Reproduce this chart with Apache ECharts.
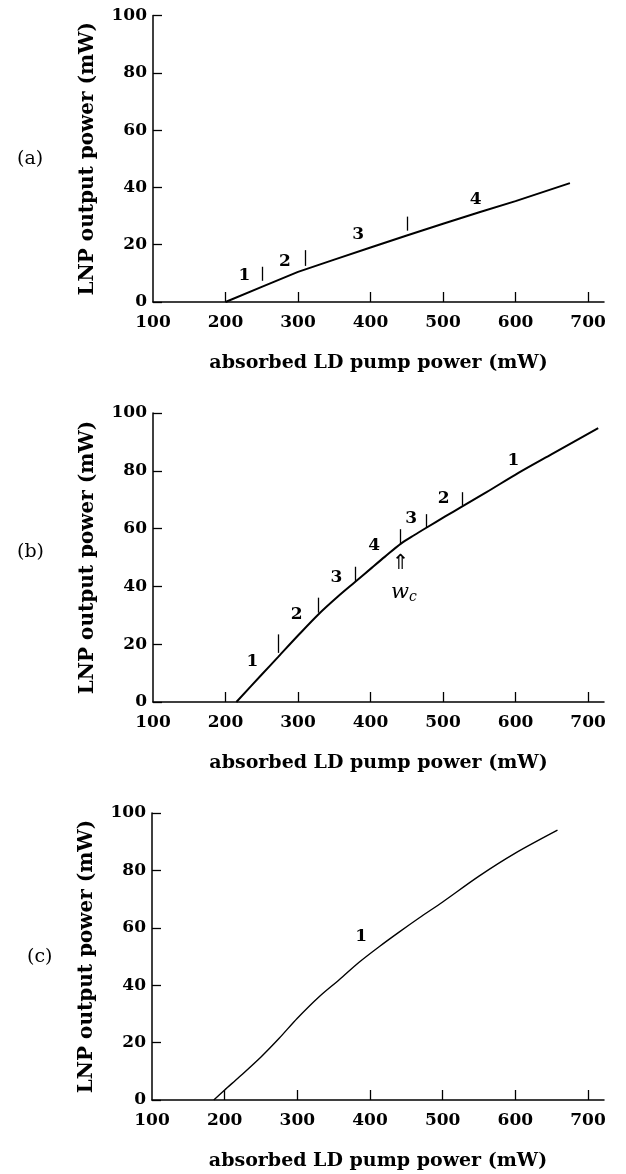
<!DOCTYPE html>
<html>
<head>
<meta charset="utf-8">
<script src="https://cdn.jsdelivr.net/npm/echarts@6/dist/echarts.min.js"></script>
<style>
  html, body { margin: 0; padding: 0; background: #fff; }
  #chart { width: 626px; height: 1174px; }
</style>
</head>
<body>
<div id="chart"></div>
<script>
// tick labels shared by the three panels
const pumpTicks = [100, 200, 300, 400, 500, 600, 700]

// (a)
const pumpA = [200, 250, 300, 350, 400, 450, 500, 550, 600, 675]
const outA = [0, 5.3, 10.5, 14.8, 19, 23.2, 27.3, 31.3, 35.2, 41.5]
const markXA = [251, 310, 451]
const markLoA = [7.4, 12.6, 24.9]
const markHiA = [12.3, 18.1, 29.8]
const tagXA = [226, 282, 383, 545]
const tagYA = [9.1, 14.1, 23.4, 35.9]
const tagTextA = ['1', '2', '3', '4']

// (b)
const pumpB = [215, 250, 273, 300, 328, 355, 379, 402, 420, 442, 460, 477, 503, 526, 560, 604, 650, 714]
const outB = [0, 9.5, 15.7, 23, 30.3, 36.5, 41.6, 46.5, 50.3, 54.8, 57.7, 60.3, 64.2, 67.6, 72.6, 79.3, 85.8, 94.8]
const markXB = [273, 328, 379, 441, 477, 526]
const markLoB = [17, 30.9, 41.9, 54.6, 60.4, 68]
const markHiB = [23.4, 36.1, 46.8, 59.8, 65, 72.6]
const tagXB = [237, 298, 353, 405, 456, 501, 597]
const tagYB = [14.1, 30.3, 43, 54, 63.3, 70.3, 83.6]
const tagTextB = ['1', '2', '3', '4', '3', '2', '1']

// (c)
const pumpC = [185, 200, 220, 250, 275, 300, 330, 358, 385, 413, 440, 468, 500, 550, 600, 658]
const outC = [0, 3.5, 8, 15, 21.5, 28.5, 36, 42, 48, 53.5, 58.5, 63.5, 69, 78, 86, 94]
const tagXC = [388]
const tagYC = [57]
const tagTextC = ['1']

const serif = 'DejaVu Serif'

const grids = [
  { left: 153, top: 15.5, width: 451, height: 286.5 },
  { left: 153, top: 413, width: 451, height: 289 },
  { left: 152, top: 813, width: 452, height: 287 }
]

const makeX = (i) => ({
  type: 'value',
  gridIndex: i,
  min: 100,
  max: 722,
  interval: 100,
  name: 'absorbed LD pump power (mW)',
  nameLocation: 'middle',
  nameGap: 52,
  nameTextStyle: { fontFamily: serif, fontWeight: 'bold', fontSize: 19, color: '#000' },
  axisLine: { lineStyle: { color: '#000', width: 1.5 } },
  axisTick: { inside: true, length: 10, lineStyle: { color: '#000', width: 1.3 }, customValues: pumpTicks.slice(1) },
  axisLabel: { customValues: pumpTicks, margin: 12, fontFamily: serif, fontWeight: 'bold', fontSize: 17, color: '#000' },
  splitLine: { show: false }
})

const makeY = (i) => ({
  type: 'value',
  gridIndex: i,
  min: 0,
  max: 100,
  interval: 20,
  name: 'LNP output power (mW)',
  nameLocation: 'middle',
  nameGap: 55,
  nameTextStyle: { fontFamily: serif, fontWeight: 'bold', fontSize: 20, color: '#000' },
  axisLine: { show: true, lineStyle: { color: '#000', width: 1.5 } },
  axisTick: { inside: true, length: 9, lineStyle: { color: '#000', width: 1.3 } },
  axisLabel: { margin: 6, fontFamily: serif, fontWeight: 'bold', fontSize: 17, color: '#000' },
  splitLine: { show: false }
})

const curve = (i, xs, ys, w, smooth, marks) => ({
  type: 'line',
  xAxisIndex: i,
  yAxisIndex: i,
  data: xs.map((x, k) => [x, ys[k]]),
  showSymbol: false,
  smooth: smooth,
  lineStyle: { color: '#000', width: w },
  animation: false,
  markLine: marks ? {
    silent: true,
    symbol: ['none', 'none'],
    label: { show: false },
    lineStyle: { color: '#000', width: 1.3, type: 'solid' },
    data: marks[0].map((x, k) => [{ coord: [x, marks[1][k]] }, { coord: [x, marks[2][k]] }])
  } : undefined
})

const tags = (i, xs, ys, texts) => ({
  type: 'scatter',
  xAxisIndex: i,
  yAxisIndex: i,
  symbolSize: 1,
  itemStyle: { color: 'rgba(0,0,0,0)', opacity: 1 },
  animation: false,
  data: xs.map((x, k) => ({ value: [x, ys[k]], name: texts[k] })),
  label: {
    show: true,
    position: 'inside',
    opacity: 1,
    formatter: (p) => p.name,
    fontFamily: serif,
    fontWeight: 'bold',
    fontSize: 17,
    color: '#000'
  }
})

const chart = echarts.init(document.getElementById('chart'))

chart.setOption({
  backgroundColor: '#fff',
  animation: false,
  grid: grids,
  xAxis: [makeX(0), makeX(1), makeX(2)],
  yAxis: [makeY(0), makeY(1), makeY(2)],
  graphic: [
    { type: 'text', left: 17, top: 150, style: { text: '(a)', font: '19px "DejaVu Serif"', fill: '#000' } },
    { type: 'text', left: 17, top: 543, style: { text: '(b)', font: '19px "DejaVu Serif"', fill: '#000' } },
    { type: 'text', left: 27, top: 948, style: { text: '(c)', font: '19px "DejaVu Serif"', fill: '#000' } }
  ],
  series: [
    curve(0, pumpA, outA, 2, false, [markXA, markLoA, markHiA]),
    tags(0, tagXA, tagYA, tagTextA),
    curve(1, pumpB, outB, 2, 0.3, [markXB, markLoB, markHiB]),
    tags(1, tagXB, tagYB, tagTextB),
    // w_c arrow and label
    {
      type: 'scatter',
      xAxisIndex: 1,
      yAxisIndex: 1,
      symbolSize: 1,
      itemStyle: { color: 'rgba(0,0,0,0)', opacity: 1 },
      data: [
        { value: [441, 48], name: 'arrow' },
        { value: [446, 38], name: 'wc' }
      ],
      label: {
        show: true,
        position: 'inside',
        opacity: 1,
        color: '#000',
        formatter: (p) => p.name === 'arrow' ? '{a|⇑}' : '{w|w}{c|c}',
        rich: {
          a: { fontFamily: 'DejaVu Sans', fontSize: 21, color: '#000' },
          w: { fontFamily: serif, fontStyle: 'italic', fontSize: 21, color: '#000' },
          c: { fontFamily: serif, fontStyle: 'italic', fontSize: 14, color: '#000', padding: [10, 0, 0, 0] }
        }
      }
    },
    curve(2, pumpC, outC, 1.4, 0.3),
    tags(2, tagXC, tagYC, tagTextC)
  ]
})
</script>
</body>
</html>
